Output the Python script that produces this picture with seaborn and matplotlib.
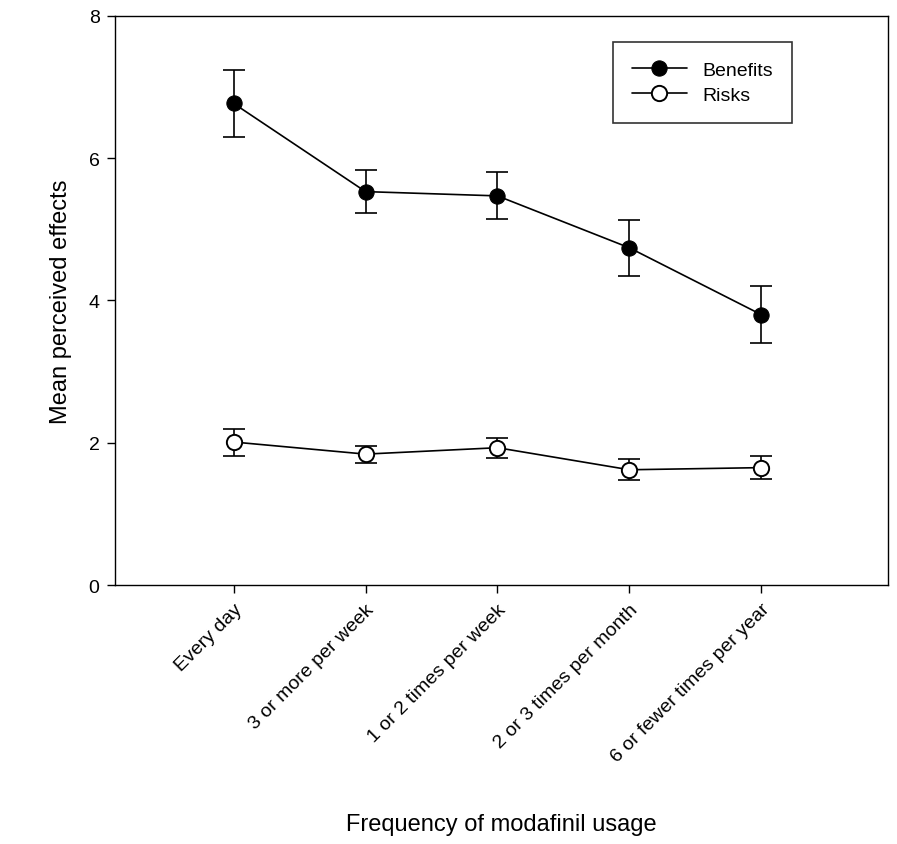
import matplotlib
matplotlib.use("Agg")
import matplotlib.pyplot as plt
import seaborn as sns
import numpy as np
import pandas as pd

# data
categories = ["Every day", "3 or more per week", "1 or 2 times per week",
              "2 or 3 times per month", "6 or fewer times per year"]
benefits = [6.77, 5.53, 5.47, 4.74, 3.80]
benefits_err = [0.47, 0.30, 0.33, 0.39, 0.40]
risks = [2.01, 1.84, 1.93, 1.62, 1.65]
risks_err = [0.19, 0.12, 0.14, 0.15, 0.16]

sns.set_style("ticks")
plt.rcParams['font.family'] = ['Liberation Sans', 'DejaVu Sans']
plt.rcParams['text.color'] = 'black'
plt.rcParams['axes.labelcolor'] = 'black'

xpos = np.arange(len(categories))
df = pd.DataFrame({
    "x": np.concatenate([xpos, xpos]),
    "value": benefits + risks,
    "series": ["Benefits"] * 5 + ["Risks"] * 5,
})

fig = plt.figure(figsize=(8.97, 8.45), dpi=100)
ax = fig.add_axes([0.128, 0.3065, 0.862, 0.6735])

# error bars under the markers
ax.errorbar(xpos, benefits, yerr=benefits_err, fmt="none", ecolor="black",
            elinewidth=1.2, capsize=8, capthick=1.2, zorder=2)
ax.errorbar(xpos, risks, yerr=risks_err, fmt="none", ecolor="black",
            elinewidth=1.2, capsize=8, capthick=1.2, zorder=2)

sns.lineplot(data=df[df.series == "Benefits"], x="x", y="value", ax=ax,
             color="black", lw=1.2, marker="o", markersize=11,
             markerfacecolor="black", markeredgecolor="black", label="Benefits", zorder=3)
sns.lineplot(data=df[df.series == "Risks"], x="x", y="value", ax=ax,
             color="black", lw=1.2, marker="o", markersize=11, markeredgewidth=1.4,
             markerfacecolor="white", markeredgecolor="black", label="Risks", zorder=3)

ax.set_xlim(-0.9, 4.96)
ax.set_ylim(0, 8)
ax.set_yticks([0, 2, 4, 6, 8])
ax.set_xticks(xpos)
ax.set_xticklabels(categories, rotation=45, ha="right", rotation_mode="anchor", fontsize=14)
ax.tick_params(axis="y", labelsize=14)
ax.tick_params(direction="out", length=6, width=1, colors="black", pad=5)
for s in ax.spines.values():
    s.set_visible(True)
    s.set_color("black")
    s.set_linewidth(1)

ax.set_xlabel("Frequency of modafinil usage", fontsize=17, labelpad=34)
ax.set_ylabel("Mean perceived effects", fontsize=17, labelpad=12)

leg = ax.legend(loc="upper right", bbox_to_anchor=(0.876, 0.955), fontsize=14,
                frameon=True, fancybox=False, edgecolor="black",
                handlelength=2.8, borderpad=1.0, labelspacing=0.4, borderaxespad=0)
leg.get_frame().set_linewidth(1.2)

fig.savefig("out.png", dpi=100)
